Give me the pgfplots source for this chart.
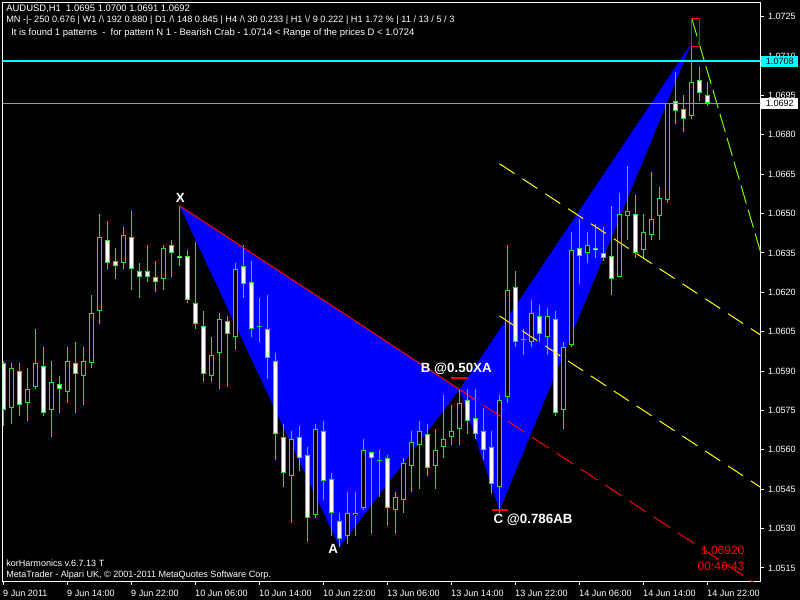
\documentclass[border=0pt]{standalone}
\usepackage{pgfplots}
\pgfplotsset{compat=1.18}
\usepackage{pgfplotstable}
\usepackage{fontspec}
\setmainfont{Liberation Sans}
\definecolor{mtgreen}{RGB}{0,255,0}
\definecolor{mtlawn}{RGB}{124,252,0}
\definecolor{mtblue}{RGB}{0,0,255}
\definecolor{mtcyan}{RGB}{0,255,255}
\definecolor{mtgray}{RGB}{150,150,160}
\definecolor{mtyellow}{RGB}{255,255,0}
\definecolor{mtred}{RGB}{255,0,0}

\pgfplotstableread{
k O H L C
0 1.0593 1.0594 1.0569 1.0575
1 1.0576 1.0593 1.0570 1.0591
2 1.0590 1.0593 1.0573 1.0577
3 1.0578 1.0591 1.0571 1.0583
4 1.0584 1.0606 1.0583 1.0593
5 1.0592 1.0599 1.0573 1.0574
6 1.0575 1.0594 1.0565 1.0586
7 1.0585 1.0588 1.0574 1.0583
8 1.0582 1.0599 1.0578 1.0594
9 1.0593 1.0601 1.0574 1.0589
10 1.0588 1.0599 1.0577 1.0594
11 1.0593 1.0619 1.0591 1.0612
12 1.0613 1.0650 1.0608 1.0641
13 1.0640 1.0647 1.0629 1.0631
14 1.0632 1.0637 1.0625 1.0630
15 1.0631 1.0645 1.0629 1.0642
16 1.0641 1.0651 1.0621 1.0629
17 1.0628 1.0631 1.0618 1.0626
18 1.0628 1.0638 1.0624 1.0626
19 1.0626 1.0632 1.0620 1.0624
20 1.0625 1.0638 1.0621 1.0637
21 1.0638 1.0640 1.0626 1.0635
22 1.0634 1.0653 1.0630 1.0633
23 1.0634 1.0636 1.0616 1.0617
24 1.0616 1.0639 1.0606 1.0608
25 1.0607 1.0613 1.0586 1.0589
26 1.0588 1.0603 1.0586 1.0596
27 1.0597 1.0612 1.0583 1.0610
28 1.0609 1.0611 1.0584 1.0604
29 1.0603 1.0631 1.0598 1.0629
30 1.0630 1.0638 1.0618 1.0623
31 1.0624 1.0632 1.0603 1.0606
32 1.0607 1.0618 1.0601 1.0607
33 1.0606 1.0619 1.0587 1.0595
34 1.0594 1.0597 1.0556 1.0566
35 1.0565 1.0570 1.0546 1.0551
36 1.0550 1.0567 1.0532 1.0564
37 1.0565 1.0569 1.0552 1.0557
38 1.0558 1.0561 1.0525 1.0534
39 1.0535 1.0570 1.0534 1.0568
40 1.0567 1.0571 1.0541 1.0548
41 1.0549 1.0551 1.0527 1.0536
42 1.0533 1.0536 1.0523 1.0526
43 1.0527 1.0544 1.0524 1.0536
44 1.0535 1.0544 1.0527 1.0536
45 1.0538 1.0564 1.0537 1.0560
46 1.0559 1.0559 1.0528 1.0557
47 1.0556 1.0560 1.0542 1.0556
48 1.0557 1.0558 1.0531 1.0538
49 1.0537 1.0544 1.0528 1.0542
50 1.0541 1.0557 1.0536 1.0555
51 1.0554 1.0567 1.0544 1.0563
52 1.0562 1.0571 1.0545 1.0567
53 1.0566 1.0570 1.0550 1.0553
54 1.0554 1.0568 1.0545 1.0560
55 1.0561 1.0581 1.0557 1.0564
56 1.0565 1.0577 1.0562 1.0567
57 1.0568 1.0583 1.0562 1.0578
58 1.0579 1.0583 1.0566 1.0571
59 1.0572 1.0583 1.0564 1.0566
60 1.0567 1.0576 1.0556 1.0560
61 1.0561 1.0567 1.0543 1.0547
62 1.0546 1.0581 1.0536 1.0579
63 1.0580 1.0638 1.0578 1.0621
64 1.0622 1.0628 1.0599 1.0601
65 1.0602 1.0606 1.0596 1.0602
66 1.0601 1.0617 1.0599 1.0612
67 1.0611 1.0615 1.0601 1.0604
68 1.0603 1.0614 1.0596 1.0611
69 1.0610 1.0613 1.0573 1.0574
70 1.0575 1.0601 1.0568 1.0599
71 1.0600 1.0643 1.0599 1.0636
72 1.0637 1.0648 1.0623 1.0634
73 1.0635 1.0643 1.0631 1.0638
74 1.0637 1.0646 1.0633 1.0636
75 1.0635 1.0645 1.0632 1.0633
76 1.0634 1.0653 1.0619 1.0625
77 1.0626 1.0658 1.0626 1.0650
78 1.0649 1.0668 1.0640 1.0651
79 1.0650 1.0657 1.0633 1.0635
80 1.0636 1.0650 1.0633 1.0643
81 1.0642 1.0666 1.0640 1.0648
82 1.0649 1.0660 1.0640 1.0656
83 1.0655 1.0692 1.0654 1.0692
84 1.0693 1.0704 1.0684 1.0689
85 1.0690 1.0695 1.0681 1.0686
86 1.0687 1.0724 1.0686 1.0700
87 1.0701 1.0706 1.0693 1.0696
88 1.0695 1.0700 1.0691 1.0692
}\candles

\begin{document}
\begin{tikzpicture}[x=1pt,y=1pt]
\useasboundingbox (0,0) rectangle (600,450);
\fill[black] (0,0) rectangle (600,450);
\begin{axis}[
  scale only axis, width=568.5pt, height=434.25pt,
  at={(1.875pt,13.875pt)}, anchor=south west,
  xmin=-0.125, xmax=94.625, ymin=1.050984, ymax=1.073041,
  clip mode=individual,
  axis line style={white, line width=0.75pt},
  tick align=outside, major tick length=2.25pt,
  tick style={white, line width=0.75pt},
  xtick pos=left, ytick pos=right,
  xticklabel pos=left, yticklabel pos=right,
  xtick={0,8,16,24,32,40,48,56,64,72,80,88},
  xticklabels={9 Jun 2011,9 Jun 14:00,9 Jun 22:00,10 Jun 06:00,10 Jun 14:00,10 Jun 22:00,13 Jun 06:00,13 Jun 14:00,13 Jun 22:00,14 Jun 06:00,14 Jun 14:00,14 Jun 22:00},
  ytick={1.0515,1.0530,1.0545,1.0560,1.0575,1.0590,1.0605,1.0620,1.0635,1.0650,1.0665,1.0680,1.0695,1.0710,1.0725},
  yticklabels={1.0515,1.0530,1.0545,1.0560,1.0575,1.0590,1.0605,1.0620,1.0635,1.0650,1.0665,1.0680,1.0695,1.0710,1.0725},
  xticklabel style={white, font=\fontsize{6.8}{8}\selectfont, anchor=north west, inner sep=0pt, xshift=-0.4pt, yshift=-4.2pt},
  yticklabel style={white, font=\fontsize{6.8}{8}\selectfont, anchor=west, inner sep=0pt, xshift=3.2pt},
]
% harmonic pattern triangles
\addplot[fill=mtblue, draw=none, forget plot] coordinates {(22,1.0653) (42,1.0523) (57,1.0583)};
\addplot[fill=mtblue, draw=none, forget plot] coordinates {(57,1.0583) (62,1.0537) (86,1.0715)};

% wicks
\addplot[draw=none, forget plot,
  error bars/.cd, y dir=minus, y explicit, error mark=none,
  error bar style={draw=mtgreen, line width=0.75pt}]
  table[x=k, y=H, y error minus expr={\thisrow{H}-\thisrow{L}}] {\candles};
% body outlines
\addplot[draw=none, forget plot,
  restrict expr to domain={abs(\thisrow{O}-\thisrow{C})}{0.00005:1},
  error bars/.cd, y dir=minus, y explicit, error mark=none,
  error bar style={draw=mtgreen, line width=3.75pt}]
  table[x=k, y expr={max(\thisrow{O},\thisrow{C})}, y error minus expr={abs(\thisrow{O}-\thisrow{C})}] {\candles};
% black bodies
\addplot[draw=none, forget plot,
  restrict expr to domain={\thisrow{C}-\thisrow{O}}{0.00005:1},
  error bars/.cd, y dir=minus, y explicit, error mark=none,
  error bar style={draw=black, line width=2.25pt, shorten <=0.75pt, shorten >=0.75pt}]
  table[x=k, y=C, y error minus expr={\thisrow{C}-\thisrow{O}}] {\candles};
% white bodies
\addplot[draw=none, forget plot,
  restrict expr to domain={\thisrow{O}-\thisrow{C}}{0.00005:1},
  error bars/.cd, y dir=minus, y explicit, error mark=none,
  error bar style={draw=white, line width=2.25pt, shorten <=0.75pt, shorten >=0.75pt}]
  table[x=k, y=O, y error minus expr={\thisrow{O}-\thisrow{C}}] {\candles};
% dojis
\addplot[only marks, mark=-, mark size=1.875pt, mtgreen, mark options={line width=0.75pt}, forget plot,
  restrict expr to domain={abs(\thisrow{O}-\thisrow{C})}{0:0.00005}]
  table[x=k, y=O] {\candles};

% lines
\addplot[mtred, line width=0.75pt] coordinates {(22,1.0653) (57,1.0583)};
\addplot[mtred, line width=0.75pt, dash pattern=on 15pt off 6.75pt] coordinates {(57,1.0583) (97,1.0503)};
\addplot[mtyellow, line width=0.75pt, dash pattern=on 13.5pt off 7pt] coordinates {(62,1.0669) (97,1.0599)};
\addplot[mtyellow, line width=0.75pt, dash pattern=on 13.5pt off 7pt] coordinates {(62,1.0611) (97,1.0541)};
\addplot[mtlawn, line width=0.75pt, dash pattern=on 14pt off 4.7pt] coordinates {(86.03,1.07244) (97,1.06109)};
\addplot[mtred, line width=0.75pt] coordinates {(85.94,1.07136) (87,1.07136) (87,1.07244) (85.94,1.07244) (85.94,1.07136)};
\addplot[mtcyan, line width=1.5pt] coordinates {(-1,1.0708) (96,1.0708)};
\addplot[mtgray, line width=0.75pt] coordinates {(-1,1.0692) (96,1.0692)};
\addplot[mtred, line width=1.5pt] coordinates {(55.94,1.05875) (58,1.05875)};
\addplot[mtred, line width=1.5pt] coordinates {(61,1.0537) (63,1.0537)};

% point labels
\node[white, font=\fontsize{10}{12}\selectfont\bfseries] at (axis cs:22.1,1.06559) {X};
\node[white, font=\fontsize{10}{12}\selectfont\bfseries] at (axis cs:41.2,1.05223) {A};
\node[white, font=\fontsize{10}{12}\selectfont\bfseries] at (axis cs:56.6,1.05909) {B @0.50XA};
\node[white, font=\fontsize{10}{12}\selectfont\bfseries] at (axis cs:66.2,1.05333) {C @0.786AB};

\coordinate (cy) at (axis cs:94.625,1.0708);
\coordinate (gy) at (axis cs:94.625,1.0692);
\end{axis}

\node[fill=mtcyan, text=black, anchor=west, inner sep=0pt, minimum width=27.75pt, minimum height=8.25pt, font=\fontsize{6.8}{8}\selectfont] at ([xshift=0.4pt]cy) {1.0708};
\node[fill=white, text=black, anchor=west, inner sep=0pt, minimum width=27.75pt, minimum height=8.25pt, font=\fontsize{6.8}{8}\selectfont] at ([xshift=0.4pt]gy) {1.0692};

\begin{scope}[white]
\node[anchor=west, inner sep=0pt, font=\fontsize{7.1}{8}\selectfont] at (4.5,443.6) {AUDUSD,H1~~1.0695 1.0700 1.0691 1.0692};
\node[anchor=west, inner sep=0pt, font=\fontsize{6.9}{8}\selectfont] at (4.5,434.8) {MN -|- 250 0.676 | W1 /\textbackslash{} 192 0.880 | D1 /\textbackslash{} 148 0.845 | H4 /\textbackslash{} 30 0.233 | H1 \textbackslash/ 9 0.222 | H1 1.72 \% | 11 / 13 / 5 / 3};
\node[anchor=west, inner sep=0pt, font=\fontsize{7.1}{8}\selectfont] at (8.25,425.5) {It is found 1 patterns~~-~~for pattern N 1 - Bearish Crab - 1.0714 < Range of the prices D < 1.0724};
\node[anchor=west, inner sep=0pt, font=\fontsize{6.8}{8}\selectfont] at (4.5,27.75) {korHarmonics v.6.7.13 T};
\node[anchor=west, inner sep=0pt, font=\fontsize{6.8}{8}\selectfont] at (4.5,18.6) {MetaTrader - Alpari UK, © 2001-2011 MetaQuotes Software Corp.};
\end{scope}
\node[anchor=east, inner sep=0pt, mtred, font=\fontsize{9}{10}\selectfont] at (558.5,37.1) {1.06920};
\node[anchor=east, inner sep=0pt, mtred, font=\fontsize{9}{10}\selectfont] at (558.5,25.5) {00:46:43};
\end{tikzpicture}
\end{document}
